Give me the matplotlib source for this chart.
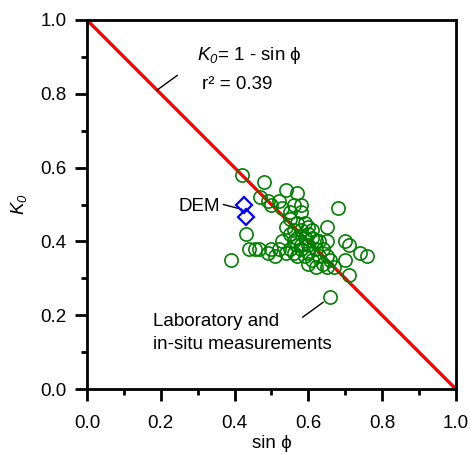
import numpy as np
import matplotlib
matplotlib.use('Agg')
import matplotlib.pyplot as plt
from matplotlib.ticker import MultipleLocator

# --- Data ---
# Laboratory and in-situ measurements (sin phi, K0)
sin_phi = [0.42, 0.48, 0.54, 0.57, 0.47, 0.49, 0.52, 0.50, 0.56, 0.58,
           0.53, 0.55, 0.58, 0.68, 0.55, 0.57, 0.60, 0.65, 0.43, 0.54,
           0.56, 0.58, 0.60, 0.55, 0.57, 0.59, 0.61, 0.62, 0.65, 0.70,
           0.71, 0.56, 0.58, 0.60, 0.62, 0.64, 0.39, 0.44, 0.455, 0.467,
           0.50, 0.52, 0.49, 0.51, 0.54, 0.56, 0.57, 0.59, 0.60, 0.61,
           0.63, 0.64, 0.66, 0.65, 0.67, 0.62, 0.58, 0.74, 0.76, 0.70,
           0.71, 0.66, 0.53, 0.55, 0.59, 0.61, 0.63, 0.60, 0.57, 0.65]
k0 = [0.58, 0.56, 0.54, 0.53, 0.52, 0.51, 0.51, 0.50, 0.50, 0.50,
      0.49, 0.48, 0.48, 0.49, 0.46, 0.45, 0.44, 0.44, 0.42, 0.44,
      0.43, 0.43, 0.42, 0.42, 0.41, 0.41, 0.41, 0.40, 0.40, 0.40,
      0.39, 0.40, 0.39, 0.39, 0.38, 0.38, 0.35, 0.38, 0.38, 0.38,
      0.38, 0.38, 0.37, 0.36, 0.37, 0.37, 0.36, 0.36, 0.37, 0.35,
      0.36, 0.34, 0.35, 0.33, 0.33, 0.33, 0.38, 0.37, 0.36, 0.35,
      0.31, 0.25, 0.40, 0.38, 0.45, 0.43, 0.40, 0.34, 0.39, 0.36]

# DEM results
dem_sin_phi = [0.426, 0.430]
dem_k0 = [0.499, 0.467]

# Jaky relation K0 = 1 - sin phi
jaky_x = [0.0, 1.0]
jaky_y = [1.0, 0.0]

# --- Style ---
plt.rcParams['font.family'] = ['Liberation Sans', 'DejaVu Sans']
plt.rcParams['mathtext.fontset'] = 'custom'
plt.rcParams['mathtext.rm'] = 'Liberation Sans:italic'
plt.rcParams['mathtext.it'] = 'Liberation Sans:italic'
plt.rcParams['mathtext.default'] = 'it'
plt.rcParams['font.size'] = 13.5

fig = plt.figure(figsize=(4.70, 4.54), dpi=100)
ax = fig.add_axes([0.185, 0.143, 0.785, 0.813])

ax.plot(jaky_x, jaky_y, color='#ff0000', linewidth=2.4, zorder=2)
ax.plot(sin_phi, k0, linestyle='none', marker='o', markersize=9.5,
        markerfacecolor='none', markeredgecolor='#008000',
        markeredgewidth=1.2, zorder=3)
ax.plot(dem_sin_phi, dem_k0, linestyle='none', marker='D', markersize=8.5,
        markerfacecolor='none', markeredgecolor='#0000ff',
        markeredgewidth=1.6, zorder=4)

# --- Annotations ---
ax.text(0.298, 0.905, r'$K_0$= 1 - sin ϕ', va='center')
ax.text(0.312, 0.824, 'r² = 0.39', va='center')
ax.plot([0.19, 0.245], [0.81, 0.85], color='black', linewidth=1)

ax.text(0.36, 0.495, 'DEM', ha='right', va='center')
ax.plot([0.370, 0.42], [0.50, 0.487], color='black', linewidth=1)

ax.text(0.178, 0.152, 'Laboratory and\nin-situ measurements',
        ha='left', va='center', linespacing=1.5)
ax.plot([0.585, 0.64], [0.195, 0.235], color='black', linewidth=1)

# --- Formatting ---
ax.set_xlim(0, 1)
ax.set_ylim(0, 1)
ax.xaxis.set_major_locator(MultipleLocator(0.2))
ax.xaxis.set_minor_locator(MultipleLocator(0.1))
ax.yaxis.set_major_locator(MultipleLocator(0.2))
ax.yaxis.set_minor_locator(MultipleLocator(0.1))
ax.xaxis.set_major_formatter(plt.FormatStrFormatter('%.1f'))
ax.yaxis.set_major_formatter(plt.FormatStrFormatter('%.1f'))
ax.tick_params(which='major', direction='out', length=8.5, width=2,
               labelsize=13.5)
ax.tick_params(which='minor', direction='out', length=4.5, width=2)
ax.tick_params(axis='x', which='major', pad=10)
ax.tick_params(axis='y', which='major', pad=6)
for spine in ax.spines.values():
    spine.set_linewidth(2)

ax.set_xlabel('sin ϕ', labelpad=2)
ax.set_ylabel(r'$K_0$', labelpad=8)

fig.savefig('out.png', dpi=100)
